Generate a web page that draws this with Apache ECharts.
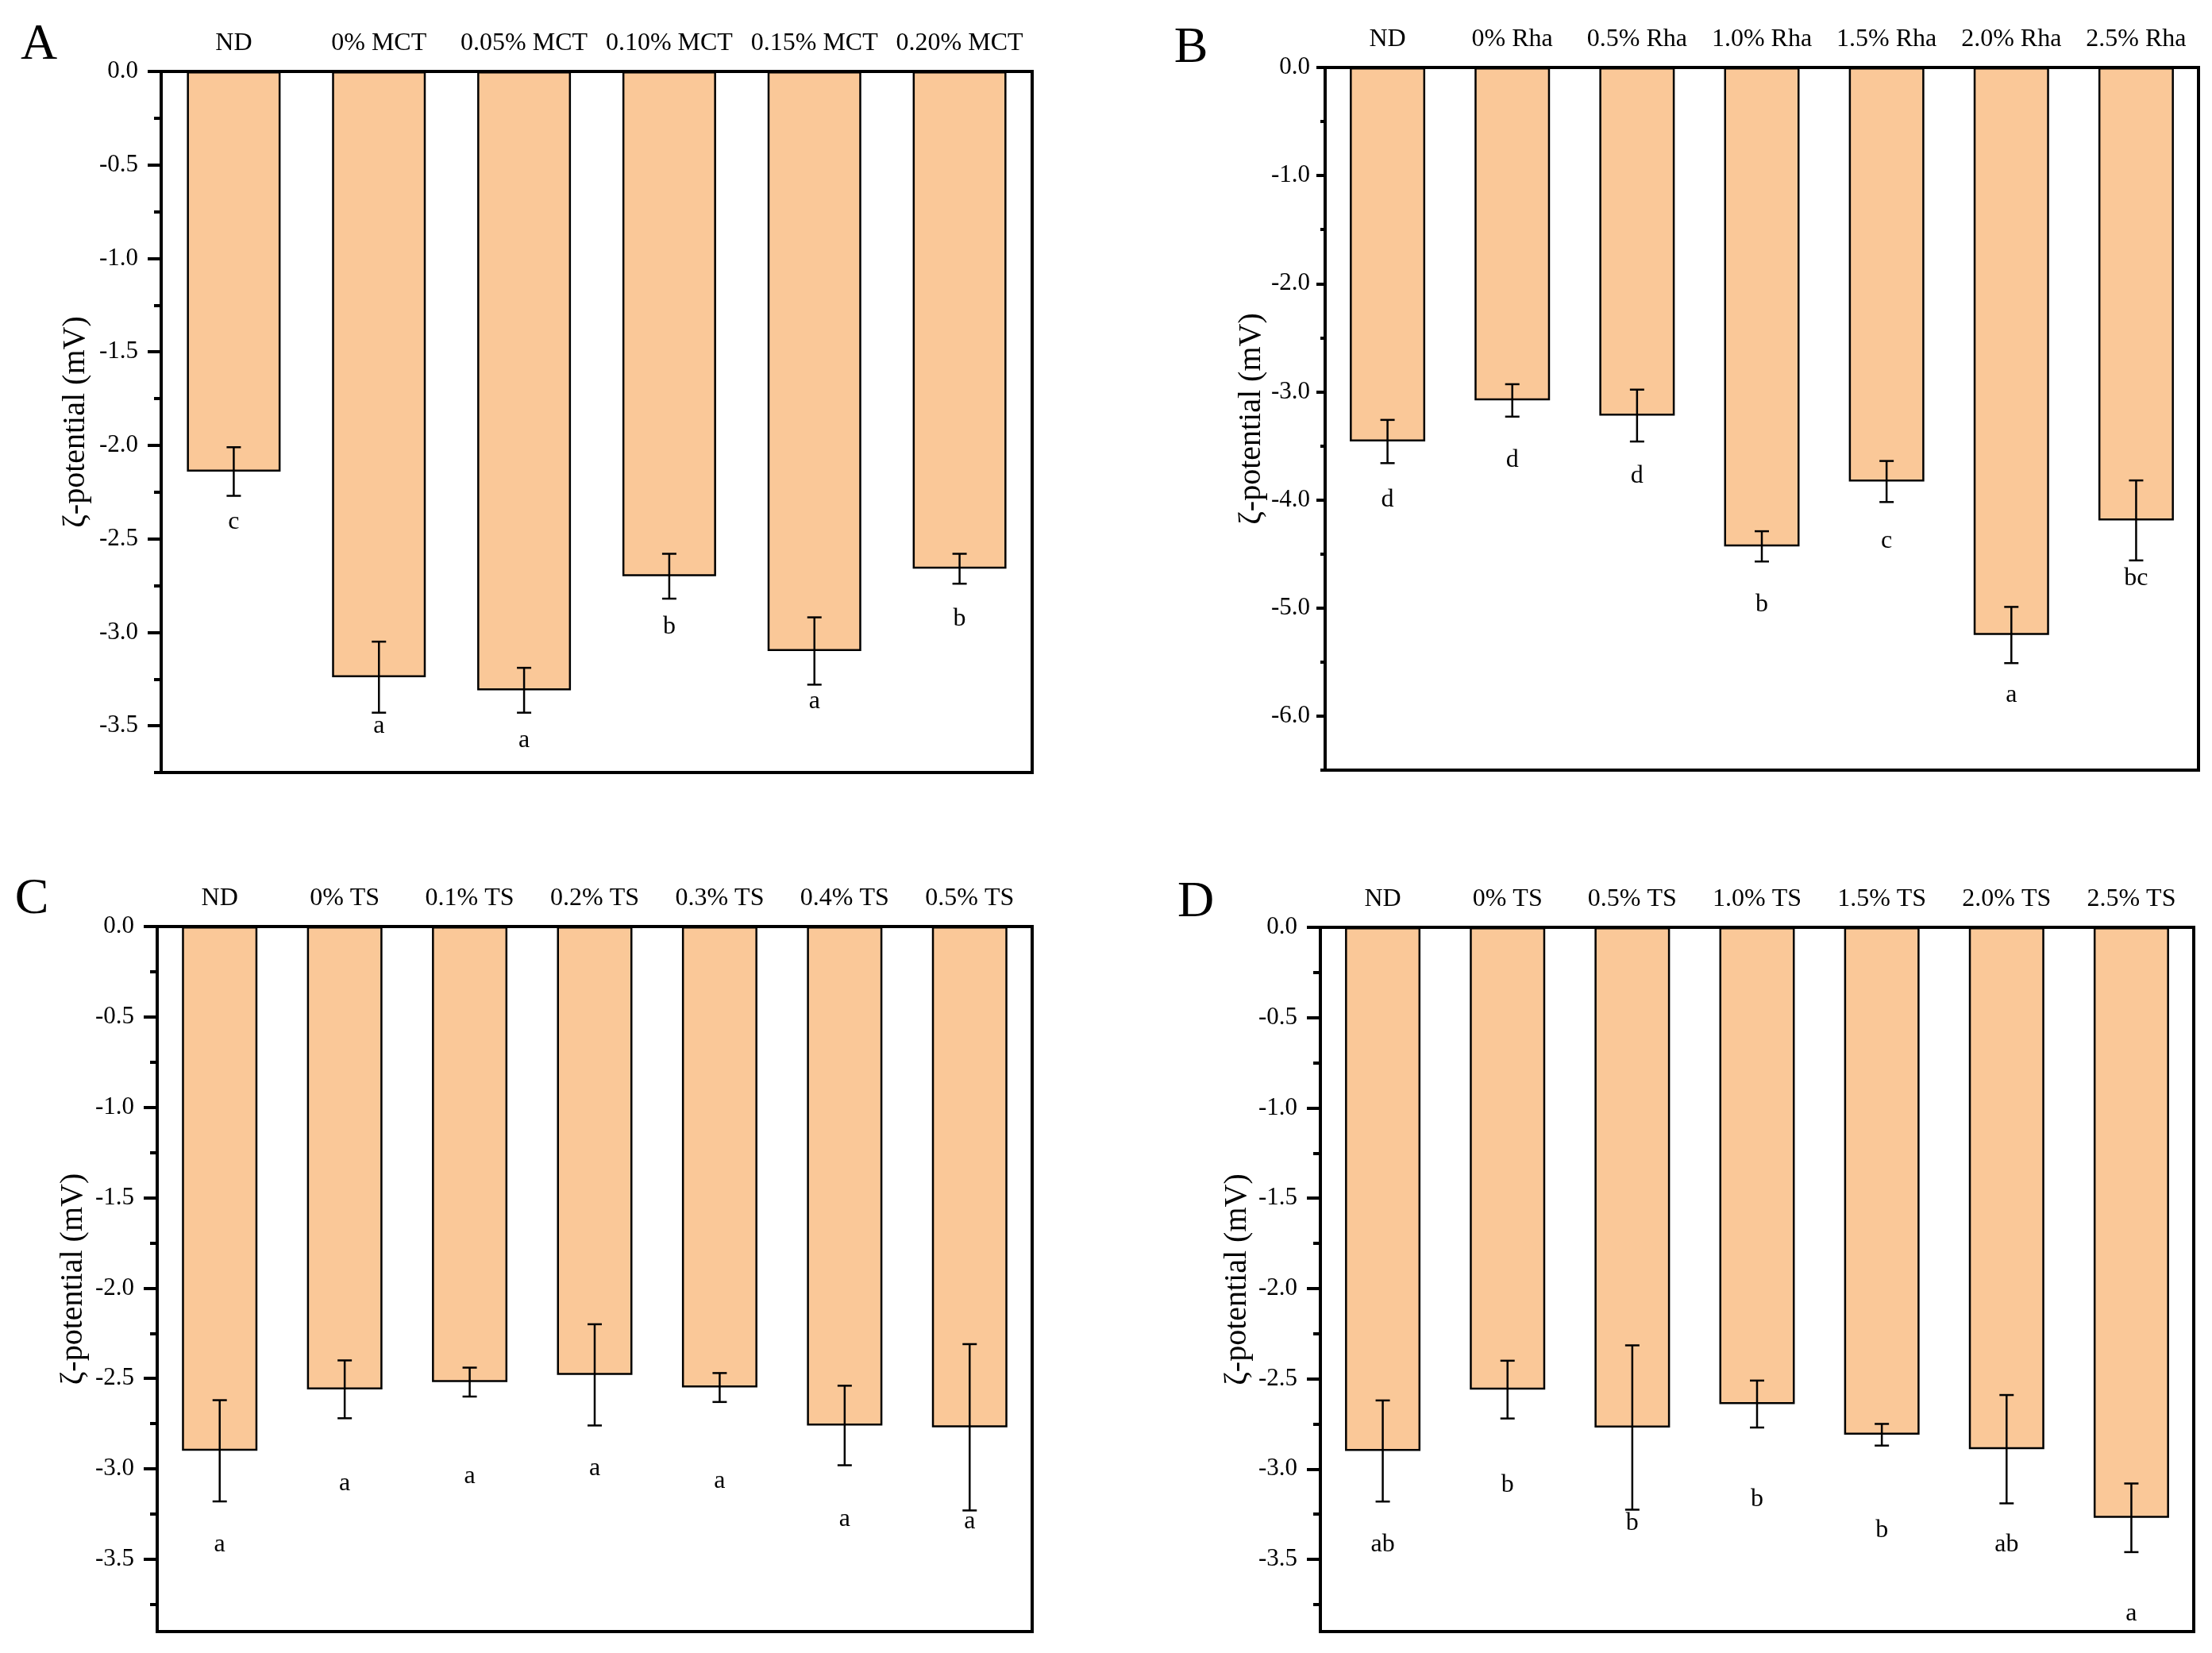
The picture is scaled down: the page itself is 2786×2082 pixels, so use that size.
<!DOCTYPE html>
<html>
<head>
<meta charset="utf-8">
<script src="https://cdn.jsdelivr.net/npm/echarts@6.0.0/dist/echarts.min.js"></script>
<style>
  html, body { margin: 0; padding: 0; background: #fff; }
  #chart { width: 2786px; height: 2082px; }
</style>
</head>
<body>
<div id="chart"></div>
<script>
// panel A
const catsA = ["ND", "0% MCT", "0.05% MCT", "0.10% MCT", "0.15% MCT", "0.20% MCT"];
const meanA = [-2.14, -3.24, -3.31, -2.70, -3.10, -2.66];
const errA = [0.13, 0.19, 0.12, 0.12, 0.18, 0.08];
const letterA = ["c", "a", "a", "b", "a", "b"];
const letterAtA = [-2.41, -3.50, -3.58, -2.97, -3.37, -2.93];

// panel B
const catsB = ["ND", "0% Rha", "0.5% Rha", "1.0% Rha", "1.5% Rha", "2.0% Rha", "2.5% Rha"];
const meanB = [-3.46, -3.08, -3.22, -4.43, -3.83, -5.25, -4.19];
const errB = [0.20, 0.15, 0.24, 0.14, 0.19, 0.26, 0.37];
const letterB = ["d", "d", "d", "b", "c", "a", "bc"];
const letterAtB = [-4.00, -3.63, -3.78, -4.97, -4.38, -5.81, -4.73];

// panel C
const catsC = ["ND", "0% TS", "0.1% TS", "0.2% TS", "0.3% TS", "0.4% TS", "0.5% TS"];
const meanC = [-2.90, -2.56, -2.52, -2.48, -2.55, -2.76, -2.77];
const errC = [0.28, 0.16, 0.08, 0.28, 0.08, 0.22, 0.46];
const letterC = ["a", "a", "a", "a", "a", "a", "a"];
const letterAtC = [-3.42, -3.08, -3.04, -3.00, -3.07, -3.28, -3.29];

// panel D
const catsD = ["ND", "0% TS", "0.5% TS", "1.0% TS", "1.5% TS", "2.0% TS", "2.5% TS"];
const meanD = [-2.90, -2.56, -2.77, -2.64, -2.81, -2.89, -3.27];
const errD = [0.28, 0.16, 0.455, 0.13, 0.06, 0.30, 0.19];
const letterD = ["ab", "b", "b", "b", "b", "ab", "a"];
const letterAtD = [-3.42, -3.09, -3.30, -3.17, -3.34, -3.42, -3.80];

// y ticks
const ticks35 = [0, -0.5, -1.0, -1.5, -2.0, -2.5, -3.0, -3.5];
const minor35 = [-0.25, -0.75, -1.25, -1.75, -2.25, -2.75, -3.25, -3.75];
const ticks6 = [0, -1, -2, -3, -4, -5, -6];
const minor6 = [-0.5, -1.5, -2.5, -3.5, -4.5, -5.5, -6.5];

const FONT = "Liberation Serif";
const FILL = "#FAC898";

const panels = [
  { tag: "A", cats: catsA, mean: meanA, err: errA, letters: letterA, letterAt: letterAtA,
    min: -3.75, ticks: ticks35, minor: minor35, grid: { left: 203, top: 90, width: 1097, height: 883 },
    barWidth: 118, tickLen: 17, minorLen: 9, labelMargin: 29, nameGap: 88, tagPos: [49, 57] },
  { tag: "B", cats: catsB, mean: meanB, err: errB, letters: letterB, letterAt: letterAtB,
    min: -6.5, ticks: ticks6, minor: minor6, grid: { left: 1669, top: 85, width: 1100, height: 885 },
    barWidth: 95, tickLen: 11, minorLen: 6, labelMargin: 19, nameGap: 73, tagPos: [1500, 61] },
  { tag: "C", cats: catsC, mean: meanC, err: errC, letters: letterC, letterAt: letterAtC,
    min: -3.9, ticks: ticks35, minor: minor35, grid: { left: 198, top: 1167, width: 1102, height: 888 },
    barWidth: 95, tickLen: 17, minorLen: 9, labelMargin: 29, nameGap: 86, tagPos: [40, 1133] },
  { tag: "D", cats: catsD, mean: meanD, err: errD, letters: letterD, letterAt: letterAtD,
    min: -3.9, ticks: ticks35, minor: minor35, grid: { left: 1663, top: 1168, width: 1100, height: 887 },
    barWidth: 95, tickLen: 17, minorLen: 9, labelMargin: 29, nameGap: 85, tagPos: [1506, 1137] },
];

const grids = [], xAxes = [], yAxes = [], series = [], graphics = [];

panels.forEach((p, k) => {
  grids.push(Object.assign({ show: true, borderColor: "#000", borderWidth: 4, backgroundColor: "transparent" }, p.grid));

  xAxes.push({
    type: "category", gridIndex: k, position: "top", data: p.cats,
    axisLine: { show: true, lineStyle: { color: "#000", width: 4 } },
    axisTick: { show: false },
    axisLabel: { interval: 0, margin: 19, color: "#000", fontFamily: FONT, fontSize: 32 },
    splitLine: { show: false },
  });

  // major ticks + labels
  yAxes.push({
    type: "value", gridIndex: k, position: "left", min: p.min, max: 0,
    name: "ζ-potential (mV)", nameLocation: "middle", nameGap: p.nameGap,
    nameTextStyle: { color: "#000", fontFamily: FONT, fontSize: 40 },
    axisLine: { show: true, lineStyle: { color: "#000", width: 4 } },
    axisTick: { show: true, customValues: p.ticks, length: p.tickLen, lineStyle: { color: "#000", width: 4 } },
    axisLabel: { customValues: p.ticks, margin: p.labelMargin, color: "#000", fontFamily: FONT, fontSize: 31,
      formatter: v => v.toFixed(1) },
    splitLine: { show: false },
  });
  // minor ticks
  yAxes.push({
    type: "value", gridIndex: k, position: "left", offset: 0, min: p.min, max: 0,
    axisLine: { show: false },
    axisTick: { show: true, customValues: p.minor, length: p.minorLen, lineStyle: { color: "#000", width: 4 } },
    axisLabel: { show: false },
    splitLine: { show: false },
  });

  const yi = k * 2;

  series.push({
    type: "bar", xAxisIndex: k, yAxisIndex: yi, data: p.mean, barWidth: p.barWidth,
    itemStyle: { color: FILL, borderColor: "#000", borderWidth: 2.5 },
    silent: true,
  });

  series.push({
    type: "custom", xAxisIndex: k, yAxisIndex: yi, silent: true, z: 5,
    data: p.mean.map((m, i) => [i, m, p.err[i]]),
    encode: { x: 0, y: 1 },
    renderItem: (params, api) => {
      const i = api.value(0), m = api.value(1), e = api.value(2);
      const top = api.coord([i, m + e]);
      const bot = api.coord([i, m - e]);
      const hw = 9;
      const st = { stroke: "#000", lineWidth: 2.5 };
      return {
        type: "group",
        children: [
          { type: "line", shape: { x1: top[0], y1: top[1], x2: bot[0], y2: bot[1] }, style: st },
          { type: "line", shape: { x1: top[0] - hw, y1: top[1], x2: top[0] + hw, y2: top[1] }, style: st },
          { type: "line", shape: { x1: bot[0] - hw, y1: bot[1], x2: bot[0] + hw, y2: bot[1] }, style: st },
        ],
      };
    },
  });

  series.push({
    type: "custom", xAxisIndex: k, yAxisIndex: yi, silent: true, z: 6,
    data: p.letterAt.map((v, i) => [i, v]),
    encode: { x: 0, y: 1 },
    renderItem: (params, api) => {
      const i = api.value(0);
      const pt = api.coord([i, api.value(1)]);
      return {
        type: "text",
        style: { text: p.letters[i], x: pt[0], y: pt[1], align: "center", verticalAlign: "middle",
          font: "32px " + FONT, fill: "#000" },
      };
    },
  });

  graphics.push({
    type: "text", x: p.tagPos[0], y: p.tagPos[1],
    style: { text: p.tag, font: "64px " + FONT, fill: "#000", align: "center", verticalAlign: "middle" },
  });
});

const chart = echarts.init(document.getElementById("chart"), null, { renderer: "canvas" });
chart.setOption({
  backgroundColor: "#fff",
  animation: false,
  grid: grids,
  xAxis: xAxes,
  yAxis: yAxes,
  series: series,
  graphic: graphics,
});
</script>
</body>
</html>
